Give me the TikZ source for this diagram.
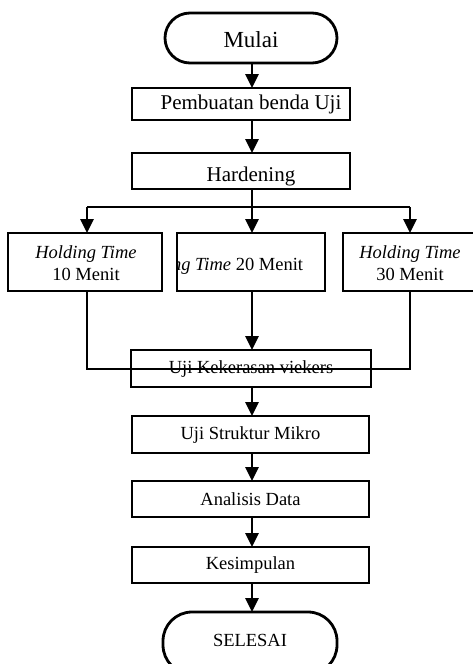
\documentclass[tikz,border=0pt]{standalone}
\usepackage{fontspec}
\setmainfont{Liberation Serif}
\usetikzlibrary{arrows.meta}
\tikzset{
  lw/.style={line width=2.8pt},
  box/.style={draw, lw, inner sep=0pt, outer sep=0pt, rectangle},
  term/.style={draw, lw, inner sep=0pt, outer sep=0pt, rectangle, rounded corners=25pt},
  arr/.style={lw, -{Triangle[length=14pt,width=13pt]}},
  con/.style={lw},
  big/.style={font=\fontsize{23}{27}\selectfont},
  mid/.style={font=\fontsize{21}{25}\selectfont},
  sml/.style={font=\fontsize{18.5}{21.5}\selectfont, align=center},
}
\begin{document}
\begin{tikzpicture}[x=1pt,y=-1pt]
\useasboundingbox (0,0) rectangle (473,664);
\clip (0,0) rectangle (473,664);
\coordinate (ax) at (252,0);
% start
\node[term, minimum width=172pt, minimum height=50pt] (mulai) at (251,38) {};
\node[big] (tmulai) at (251,40) {Mulai};
% boxes
\node[box, minimum width=218pt, minimum height=32pt] (pb) at (241,104) {};
\node[mid] (tpb) at (251,104) {Pembuatan benda Uji};
\node[box, minimum width=218pt, minimum height=36pt] (hd) at (241,171) {};
\node[mid, anchor=base] (thd) at (251,181) {Hardening};
% holding time boxes
\node[box, minimum width=154pt, minimum height=58pt] (h1) at (85,262) {};
\node[sml] (th1) at (86,263) {\textit{Holding Time}\\10 Menit};
\node[box, minimum width=148pt, minimum height=58pt] (h2) at (251,262) {};
\begin{scope}
\clip (h2.south west) rectangle (h2.north east);
\node[sml, anchor=base] (th2) at (216.5,270) {\textit{Holding Time} 20 Menit};
\end{scope}
\node[box, minimum width=134pt, minimum height=58pt] (h3) at (410,262) {};
\node[sml] (th3) at (410,263) {\textit{Holding Time}\\30 Menit};
% lower boxes
\node[box, minimum width=240pt, minimum height=37pt] (uk) at (251,368.5) {};
\node[sml] (tuk) at (251,369) {Uji Kekerasan viekers};
\node[box, minimum width=237pt, minimum height=37pt] (us) at (250.5,434.5) {};
\node[sml] (tus) at (250.5,435) {Uji Struktur Mikro};
\node[box, minimum width=237pt, minimum height=36pt] (ad) at (250.5,499) {};
\node[sml] (tad) at (250.5,499) {Analisis Data};
\node[box, minimum width=237pt, minimum height=36pt] (ks) at (250.5,565) {};
\node[sml] (tks) at (250.5,565) {Kesimpulan};
\node[term, minimum width=174pt, minimum height=62pt, rounded corners=29pt] (sl) at (250,643) {};
\node[sml] (tsl) at (250,640) {SELESAI};
% connectors
\draw[arr] (mulai.south -| ax) -- (pb.north -| ax);
\draw[arr] (pb.south -| ax) -- (hd.north -| ax);
\coordinate (j) at (252,207);
\coordinate (jl) at (87,207);
\coordinate (jr) at (410,207);
\draw[con] (hd.south -| ax) -- (j);
\draw[con] (jl) -- (jr);
\draw[arr] (jl) -- (jl |- h1.north);
\draw[arr] (j) -- (j |- h2.north);
\draw[arr] (jr) -- (jr |- h3.north);
\coordinate (bl) at (87,369);
\coordinate (br) at (410,369);
\draw[con] (h1.south -| bl) -- (bl) -- (br) -- (h3.south -| br);
\draw[arr] (h2.south -| ax) -- (uk.north -| ax);
\draw[arr] (uk.south -| ax) -- (us.north -| ax);
\draw[arr] (us.south -| ax) -- (ad.north -| ax);
\draw[arr] (ad.south -| ax) -- (ks.north -| ax);
\draw[arr] (ks.south -| ax) -- (sl.north -| ax);
\end{tikzpicture}
\end{document}
